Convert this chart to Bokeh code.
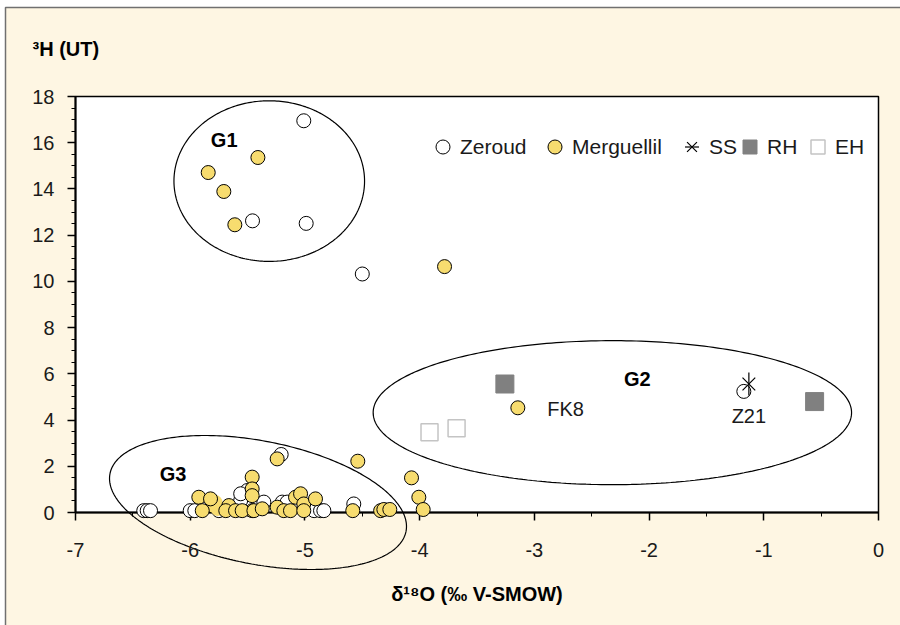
import numpy as np
from bokeh.plotting import figure
from bokeh.models import (Range1d, SingleIntervalTicker, Legend, LegendItem, Label,
                          LabelSet, ColumnDataSource, LinearAxis, CustomJSTickFormatter)
from bokeh.core.properties import value
from bokeh.embed import file_html
from bokeh.resources import INLINE

# ---------------- data ----------------
zeroud_x = [-5.01, -5.457, -4.989, -4.50, -1.174,
            -6.405, -6.375, -6.346, -6.00, -5.96, -5.56, -5.503, -5.56, -5.358,
            -5.207, -5.198, -5.155, -4.92, -4.864, -4.835, -4.574, -5.75]
zeroud_y = [16.95, 12.62, 12.51, 10.32, 5.24,
            0.08, 0.08, 0.08, 0.08, 0.08, 0.52, 0.95, 0.81, 0.45,
            2.51, 0.45, 0.45, 0.08, 0.08, 0.08, 0.37, 0.08]

merg_x = [-5.41, -5.843, -5.707, -5.611, -3.783, -3.144,
          -4.071, -4.007, -3.969, -4.539, -4.583, -4.34, -4.312, -4.26,
          -5.242, -5.46, -5.46, -5.46, -5.46,
          -5.925, -5.895, -5.823, -5.663, -5.69, -5.605, -5.547, -5.445,
          -5.372, -5.242, -5.184, -5.126, -5.082, -5.038, -5.01, -5.01, -4.908]
merg_y = [15.36, 14.71, 13.89, 12.45, 10.64, 4.53,
          1.50, 0.66, 0.13, 2.22, 0.08, 0.08, 0.13, 0.13,
          2.32, 1.53, 1.02, 0.73, 0.08,
          0.66, 0.08, 0.59, 0.30, 0.08, 0.08, 0.08, 0.08,
          0.16, 0.23, 0.08, 0.08, 0.66, 0.81, 0.37, 0.08, 0.59]
# Merguellil points drawn without outline (blurred cluster)
merg_soft_x = [-5.80, -5.76, -5.78]
merg_soft_y = [0.30, 0.15, 0.45]

ss_x = [-1.130]
ss_y = [5.56]
rh_x = [-3.257, -0.557]
rh_y = [5.56, 4.80]
eh_x = [-3.914, -3.678]
eh_y = [3.47, 3.65]

group_names = ["G1", "G2", "G3"]
group_x = [-5.704, -2.103, -6.15]
group_y = [16.10, 5.79, 1.67]

site_names = ["FK8", "Z21"]
site_x = [-2.728, -1.130]
site_y = [4.46, 4.17]

# ellipses: centre (data), semi-axes (px), rotation (deg, clockwise on screen)
ell_cx = [-5.311, -2.32, -5.409]
ell_cy = [14.34, 4.32, 0.433]
ell_a = [95.3, 239.2, 150.8]
ell_b = [80.3, 72.0, 61.6]
ell_ang = [0.0, 0.0, 11.03]

x_min, x_max = -7, 0
y_min, y_max = 0, 18
x_tick_interval = 1
y_tick_interval = 2

FONT = "Liberation Sans"
CREAM = "#FEF6E3"
YELLOW = "#F7DC6F"

# ---------------- layout mapping (canvas == frame) ----------------
W, H = 900, 625
BOX_L, BOX_R, BOX_T, BOX_B = 75, 878, 96, 512      # plot-box edges in pixels
PX_X = (BOX_R - BOX_L) / (x_max - x_min)
PX_Y = (BOX_B - BOX_T) / (y_max - y_min)


def px2x(px):
    return x_min + (px - BOX_L) / PX_X


def px2y(py):
    return y_min + (BOX_B - py) / PX_Y


p = figure(width=W, height=H, x_range=Range1d(px2x(0), px2x(W)),
           y_range=Range1d(px2y(H), px2y(0)),
           output_backend="svg", toolbar_location=None, min_border=0,
           x_axis_type=None, y_axis_type=None,
           background_fill_color="white", border_fill_color="white")
p.outline_line_color = None
p.xgrid.visible = False
p.ygrid.visible = False

# cream page with its top/left edge line, then the white plot box
p.quad(left=px2x(5), right=px2x(W + 10), top=px2y(7), bottom=px2y(H + 10),
       fill_color=CREAM, line_color="#707070", line_width=1.5, level="underlay")
p.quad(left=x_min, right=x_max, top=y_max, bottom=y_min, fill_color="white",
       line_color="black", line_width=1.5, level="underlay")

# axes at fixed positions
fmt = CustomJSTickFormatter(code="return tick.toFixed(0);")
xax = LinearAxis(fixed_location=y_min, bounds=(x_min, x_max), formatter=fmt,
                 ticker=SingleIntervalTicker(interval=x_tick_interval, num_minor_ticks=2))
yax = LinearAxis(fixed_location=x_min, bounds=(y_min, y_max), formatter=fmt,
                 ticker=SingleIntervalTicker(interval=y_tick_interval, num_minor_ticks=4))
for ax in (xax, yax):
    ax.axis_line_width = 2
    ax.axis_line_color = "black"
    ax.major_tick_in = 0
    ax.major_tick_out = 8
    ax.minor_tick_in = 0
    ax.minor_tick_out = 4
    ax.major_tick_line_width = 1.5
    ax.major_tick_line_color = "black"
    ax.minor_tick_line_color = "black"
    ax.minor_tick_line_width = 1
    ax.major_label_text_font = FONT
    ax.major_label_text_font_size = "20px"
    ax.major_label_text_color = "#1a1a1a"
xax.major_label_standoff = 22
yax.major_label_standoff = 13
p.add_layout(xax, "below")
p.add_layout(yax, "left")

# ellipses
t = np.linspace(0, 2 * np.pi, 300)
for cx, cy, a, b, ang in zip(ell_cx, ell_cy, ell_a, ell_b, ell_ang):
    th = np.deg2rad(ang)
    dx = a * np.cos(t) * np.cos(th) - b * np.sin(t) * np.sin(th)
    dy = a * np.cos(t) * np.sin(th) + b * np.sin(t) * np.cos(th)
    p.line(cx + dx / PX_X, cy - dy / PX_Y, line_color="black", line_width=1.2,
           level="underlay")

r_z = p.scatter(zeroud_x, zeroud_y, marker="circle", size=14, fill_color="white",
                line_color="black", line_width=1, level="overlay")
p.scatter(merg_soft_x, merg_soft_y, marker="circle", size=14, fill_color=YELLOW,
          line_color=None, level="overlay")
r_m = p.scatter(merg_x, merg_y, marker="circle", size=14, fill_color=YELLOW,
                line_color="black", line_width=1, level="overlay")
r_rh = p.scatter(rh_x, rh_y, marker="square", size=18, fill_color="#808080",
                 line_color="#808080", level="overlay")
r_eh = p.scatter(eh_x, eh_y, marker="square", size=17, fill_color="white",
                 line_color="#c4c4c4", line_width=1.5, level="overlay")
r_ss1 = p.scatter(ss_x, ss_y, marker="x", size=18, line_color="black", line_width=1.2,
                  level="overlay")
r_ss2 = p.scatter(ss_x, ss_y, marker="dash", size=23, angle=np.pi / 2,
                  line_color="black", line_width=1.2, level="overlay")

# legends (one per item to match the original spacing); location in canvas px
leg_specs = [("Zeroud", [r_z], 425, -1), ("Merguellil", [r_m], 537, -3),
             ("SS", [r_ss1, r_ss2], 674, -8), ("RH", [r_rh], 732, -1),
             ("EH", [r_eh], 800, 0)]
for lab, rends, vx, stand in leg_specs:
    leg = Legend(items=[LegendItem(label=lab, renderers=rends)], location=(vx, 461),
                 orientation="horizontal", glyph_width=35, glyph_height=35,
                 label_standoff=stand, padding=0, margin=0, spacing=0,
                 border_line_color=None, background_fill_alpha=0,
                 label_text_font=FONT, label_text_font_size="21px",
                 label_text_color="#1a1a1a")
    p.add_layout(leg, "center")

# group and site labels
p.add_layout(LabelSet(x="x", y="y", text="t",
                      source=ColumnDataSource(dict(x=group_x, y=group_y, t=group_names)),
                      text_align="center", text_baseline="middle", text_font=value(FONT),
                      text_font_size="20px", text_font_style="bold", text_color="black"))
p.add_layout(LabelSet(x="x", y="y", text="t",
                      source=ColumnDataSource(dict(x=site_x, y=site_y, t=site_names)),
                      text_align="center", text_baseline="middle", text_font=value(FONT),
                      text_font_size="20px", text_color="#1a1a1a"))

# axis titles
p.add_layout(Label(x=px2x(32), y=px2y(48), text="³H (UT)", text_align="left",
                   text_baseline="middle", text_font=FONT, text_font_size="20px",
                   text_font_style="bold", text_color="black"))
p.add_layout(Label(x=(x_min + x_max) / 2, y=px2y(593), text="δ¹⁸O (‰ V-SMOW)",
                   text_align="center", text_baseline="middle", text_font=FONT,
                   text_font_size="20px", text_font_style="bold", text_color="black"))

open("out.html", "w").write(file_html(p, INLINE))
